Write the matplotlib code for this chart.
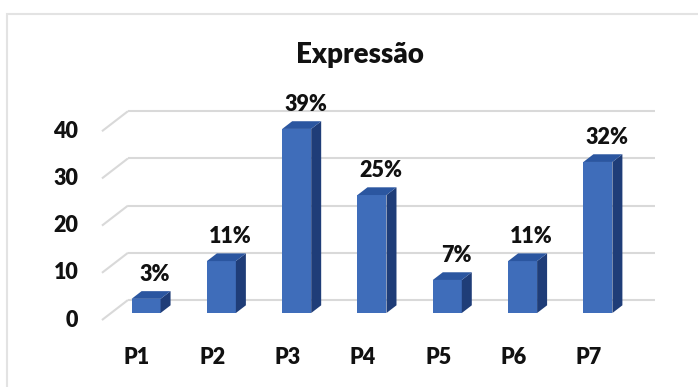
#!/usr/bin/env python3
# -*- coding: utf-8 -*-
"""
Gráfico de colunas 3D - Expressão
"""

import matplotlib.pyplot as plt
from matplotlib.patches import Polygon, Rectangle

plt.rcParams['font.family'] = ['Lato', 'DejaVu Sans']

categories = ['P1', 'P2', 'P3', 'P4', 'P5', 'P6', 'P7']
values = [3, 11, 39, 25, 7, 11, 32]
pct_labels = ['3%', '11%', '39%', '25%', '7%', '11%', '32%']
y_ticks = [0, 10, 20, 30, 40]

# Colors (Excel-like 3D column)
front_color = '#3F6DBA'
side_color = '#1F3D78'
top_color = '#2B56A0'
grid_color = '#D9D9D9'
text_color = '#111111'

# Oblique projection: offset per unit of depth (data units)
DX = 0.345
DY = 4.24
P0 = 0.35      # depth of bar front face
DEPTH = 0.385  # bar depth
W = 0.385      # bar width
FW = 'heavy'


def create_chart():
    fig = plt.figure(figsize=(6.98, 3.87), dpi=100)
    ax = fig.add_axes([0, 0, 1, 1])
    ax.set_xlim(-1.819, 7.450)
    ax.set_ylim(-14.19, 67.8)
    ax.axis('off')

    # Outer chart border
    fig.patches.append(Rectangle((7 / 698, -0.1), 1.2, 1 - 14 / 387 + 0.1,
                                 transform=fig.transFigure, fill=False,
                                 edgecolor='#E3E3E3', linewidth=1.5))

    # Gridlines: back wall + diagonal floor lines
    x_left, x_right = -0.465, 6.53
    for t in y_ticks:
        ax.plot([x_left, x_left + DX], [t, t + DY], color=grid_color,
                lw=1.5, zorder=1, solid_capstyle='butt')
        ax.plot([x_left + DX, x_right + DX], [t + DY, t + DY],
                color=grid_color, lw=1.5, zorder=1, solid_capstyle='butt')
        ax.text(-0.78, t, str(t), ha='right', va='center',
                fontsize=15.5, fontweight=FW, color=text_color)

    # Bars
    xs = list(range(len(categories)))
    b = P0 * DY
    ax.bar([x + P0 * DX for x in xs], values, W, bottom=b,
           color=front_color, zorder=3)
    for x, v, lab in zip(xs, values, pct_labels):
        xl = x + P0 * DX - W / 2
        xr = x + P0 * DX + W / 2
        ddx, ddy = DEPTH * DX, DEPTH * DY
        side = Polygon([(xr, b), (xr + ddx, b + ddy),
                        (xr + ddx, b + v + ddy), (xr, b + v)],
                       closed=True, facecolor=side_color, edgecolor='none',
                       zorder=3)
        top = Polygon([(xl, b + v), (xr, b + v),
                       (xr + ddx, b + v + ddy), (xl + ddx, b + v + ddy)],
                      closed=True, facecolor=top_color, edgecolor='none',
                      zorder=3)
        ax.add_patch(side)
        ax.add_patch(top)
        ax.text(x + (P0 + DEPTH / 2) * DX + 0.05, b + v + ddy + 1.3, lab,
                ha='center', va='bottom', fontsize=15.5, fontweight=FW,
                color=text_color)

    # Category labels
    for x, c in zip(xs, categories):
        ax.text(x, -7.84, c, ha='center', va='center', fontsize=15.5,
                fontweight=FW, color=text_color)

    # Title
    fig.text(360 / 698, 1 - 55 / 387, 'Expressão', ha='center', va='center',
             fontsize=20, fontweight=FW, color=text_color)

    fig.savefig('out.png', dpi=100, facecolor='white')


if __name__ == '__main__':
    create_chart()
